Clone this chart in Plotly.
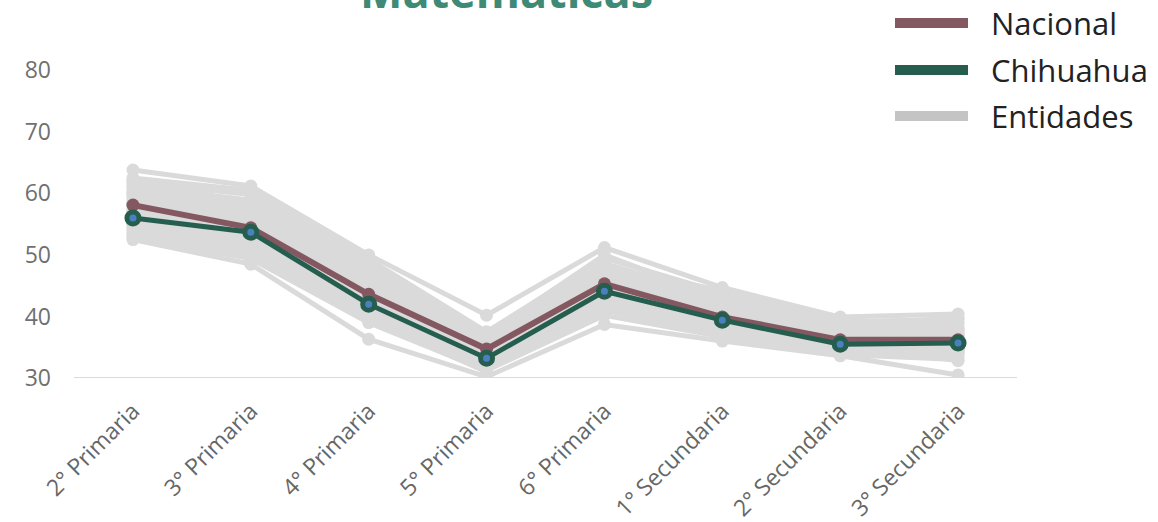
import plotly.graph_objects as go

categories = ["2° Primaria", "3° Primaria", "4° Primaria", "5° Primaria",
              "6° Primaria", "1° Secundaria", "2° Secundaria", "3° Secundaria"]

nacional = [58.1, 54.4, 43.6, 34.7, 45.3, 39.9, 36.2, 36.2]
chihuahua = [56.0, 53.7, 42.0, 33.2, 44.1, 39.4, 35.5, 35.7]

entidades = [
    [63.8, 61.2, 50.0, 40.2, 51.2, 44.7, 39.9, 40.4],
    [62.5, 60.5, 49.3, 37.5, 49.5, 43.8, 39.2, 39.5],
    [61.8, 59.8, 48.0, 36.8, 48.6, 43.0, 38.8, 38.9],
    [61.2, 58.9, 47.2, 36.2, 47.9, 42.5, 38.4, 38.3],
    [60.8, 58.2, 46.5, 35.9, 47.2, 42.1, 38.0, 37.8],
    [60.3, 57.6, 46.0, 35.6, 46.8, 41.8, 37.7, 37.5],
    [59.9, 57.0, 45.5, 35.3, 46.4, 41.4, 37.4, 37.2],
    [59.5, 56.5, 45.2, 35.0, 46.0, 41.1, 37.1, 36.9],
    [59.0, 56.0, 44.8, 34.8, 45.7, 40.8, 36.8, 36.6],
    [58.6, 55.6, 44.4, 34.5, 45.4, 40.6, 36.6, 36.4],
    [58.2, 55.1, 44.0, 34.3, 45.1, 40.3, 36.4, 36.2],
    [57.8, 54.7, 43.6, 34.1, 44.8, 40.1, 36.2, 36.0],
    [57.3, 54.3, 43.3, 33.9, 44.5, 39.9, 36.0, 35.8],
    [56.9, 53.9, 43.0, 33.7, 44.2, 39.6, 35.8, 35.6],
    [56.5, 53.5, 42.6, 33.5, 43.9, 39.4, 35.6, 35.4],
    [56.0, 53.1, 42.3, 33.3, 43.6, 39.2, 35.4, 35.2],
    [55.6, 52.7, 42.0, 33.1, 43.3, 39.0, 35.2, 35.0],
    [55.2, 52.3, 41.6, 32.9, 43.0, 38.8, 35.0, 34.8],
    [54.8, 51.9, 41.3, 32.7, 42.7, 38.5, 34.8, 34.6],
    [54.4, 51.5, 41.0, 32.5, 42.4, 38.2, 34.6, 34.4],
    [54.0, 51.1, 40.6, 32.3, 42.0, 37.9, 34.4, 34.2],
    [53.6, 50.6, 40.2, 32.0, 41.6, 37.6, 34.2, 34.0],
    [53.2, 50.1, 39.8, 31.7, 41.0, 37.2, 34.0, 33.6],
    [52.8, 49.4, 39.0, 31.2, 40.2, 36.7, 33.8, 33.0],
    [52.5, 48.5, 36.3, 30.2, 38.7, 36.0, 33.6, 30.5],
    [60.0, 60.8, 48.8, 37.0, 50.0, 42.8, 38.6, 39.8],
    [62.0, 56.8, 45.8, 36.0, 48.0, 44.2, 39.5, 38.0],
    [58.0, 58.5, 47.0, 33.0, 42.5, 38.0, 35.5, 32.8],
    [55.0, 55.8, 39.5, 31.0, 46.5, 42.0, 37.5, 37.0],
    [57.0, 52.0, 42.8, 35.5, 47.5, 36.3, 34.0, 35.0],
]

legend_labels = ["Nacional", "Chihuahua", "Entidades"]
legend_colors = ["#845860", "#255e4f", "#c4c4c4"]

GRAY = "#dadada"
FONT = "Open Sans"

fig = go.Figure()
for vals in entidades:
    fig.add_trace(go.Scatter(
        x=categories, y=vals, mode="lines+markers",
        line=dict(color=GRAY, width=5),
        marker=dict(color=GRAY, size=13),
        showlegend=False, hoverinfo="skip"))

fig.add_trace(go.Scatter(
    x=categories, y=nacional, mode="lines+markers", name="Nacional",
    line=dict(color="#845860", width=6),
    marker=dict(color="#845860", size=13),
    showlegend=False))

fig.add_trace(go.Scatter(
    x=categories, y=chihuahua, mode="lines+markers", name="Chihuahua",
    line=dict(color="#255e4f", width=5),
    marker=dict(color="#4a80c0", size=12, line=dict(color="#255e4f", width=5)),
    showlegend=False))

# Manual legend (wide bar swatches)
L, T = 74, 58
PW, PH = 943, 320
def px2x(px):
    return (px - L) / PW
def py2y(py):
    return (T + PH - py) / PH

legend_rows = [23, 70, 116]
for lab, col, ry in zip(legend_labels, legend_colors, legend_rows):
    fig.add_shape(type="rect", xref="paper", yref="paper",
                  x0=px2x(895), x1=px2x(968), y0=py2y(ry + 5), y1=py2y(ry - 5),
                  fillcolor=col, line=dict(width=0))
    fig.add_annotation(xref="paper", yref="paper", x=px2x(989), y=py2y(ry),
                       text=lab, showarrow=False, xanchor="left", yanchor="middle",
                       font=dict(family=FONT, size=31, color="#222222"))

fig.add_annotation(xref="paper", yref="paper", x=px2x(506), y=py2y(-10),
                   text="<b>Matemáticas</b>", showarrow=False,
                   xanchor="center", yanchor="middle",
                   font=dict(family=FONT, size=45, color="#3f8a76"))

fig.update_layout(
    width=1158, height=522,
    margin=dict(l=L, r=1158 - L - PW, t=T, b=522 - T - PH),
    paper_bgcolor="white", plot_bgcolor="white",
    font=dict(family=FONT, color="#666666"),
    xaxis=dict(showgrid=False, zeroline=False, showline=False, automargin=False,
               tickangle=-45, tickfont=dict(size=23, color="#666666"),
               range=[-0.5, 7.5], ticks="", ticklabelstandoff=14),
    yaxis=dict(showgrid=False, zeroline=False, showline=False, automargin=False,
               range=[30, 82], tickvals=[30, 40, 50, 60, 70, 80],
               tickfont=dict(size=23, color="#707070"), ticks="",
               ticklabelstandoff=22),
)
fig.add_shape(type="line", xref="paper", yref="y", x0=0, x1=1, y0=30, y1=30,
              line=dict(color=GRAY, width=2), layer="below")

fig.write_html("out.html", config={"displayModeBar": False},
               post_script="document.body.style.margin='0px';")
